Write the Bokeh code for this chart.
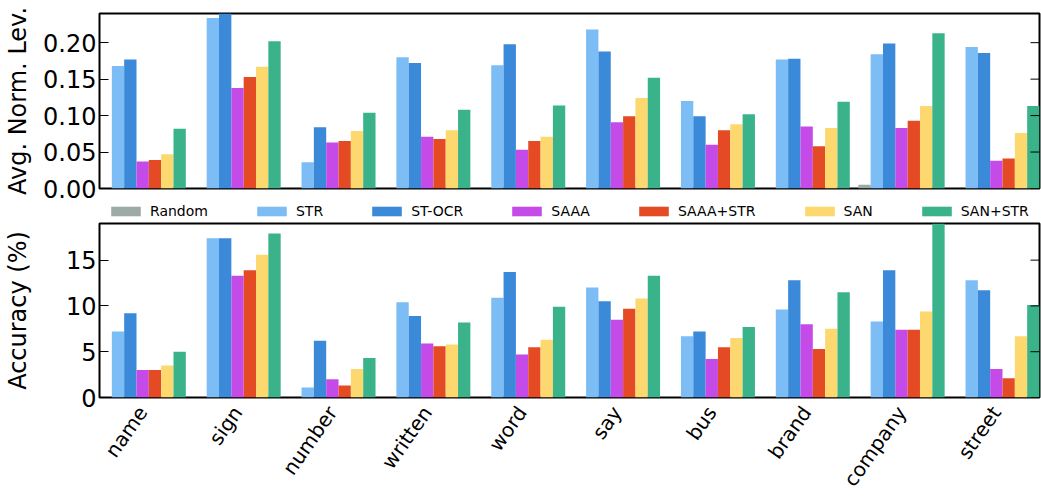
import math
from bokeh.plotting import figure
from bokeh.models import Range1d, FixedTicker, PrintfTickFormatter
from bokeh.layouts import column
from bokeh.embed import file_html
from bokeh.resources import INLINE

# Question keywords (x groups)
categories = ["name", "sign", "number", "written", "word",
              "say", "bus", "brand", "company", "street"]

methods = ["Random", "STR", "ST-OCR", "SAAA", "SAAA+STR", "SAN", "SAN+STR"]
colors = ["#9eaaa6", "#7dbdf6", "#3a8ad9", "#c44be8", "#e44b25", "#fdd86f", "#3bb38a"]

# Average normalized Levenshtein similarity per keyword
lev_random   = [0.0, 0.0, 0.0, 0.0, 0.0, 0.0, 0.0, 0.0, 0.005, 0.0]
lev_str      = [0.168, 0.234, 0.036, 0.180, 0.169, 0.218, 0.120, 0.177, 0.184, 0.194]
lev_st_ocr   = [0.177, 0.240, 0.084, 0.172, 0.198, 0.188, 0.099, 0.178, 0.199, 0.186]
lev_saaa     = [0.037, 0.138, 0.063, 0.071, 0.053, 0.091, 0.060, 0.085, 0.083, 0.038]
lev_saaa_str = [0.039, 0.153, 0.065, 0.068, 0.065, 0.099, 0.080, 0.058, 0.093, 0.041]
lev_san      = [0.047, 0.167, 0.079, 0.080, 0.071, 0.124, 0.088, 0.083, 0.113, 0.076]
lev_san_str  = [0.082, 0.202, 0.104, 0.108, 0.114, 0.152, 0.102, 0.119, 0.213, 0.113]

# Accuracy (%) per keyword
acc_random   = [0.0, 0.0, 0.0, 0.0, 0.0, 0.0, 0.0, 0.0, 0.0, 0.0]
acc_str      = [7.2, 17.4, 1.1, 10.4, 10.9, 12.0, 6.7, 9.6, 8.3, 12.8]
acc_st_ocr   = [9.2, 17.4, 6.2, 8.9, 13.7, 10.5, 7.2, 12.8, 13.9, 11.7]
acc_saaa     = [3.0, 13.3, 2.0, 5.9, 4.7, 8.5, 4.2, 8.0, 7.4, 3.1]
acc_saaa_str = [3.0, 13.9, 1.3, 5.6, 5.5, 9.7, 5.5, 5.3, 7.4, 2.1]
acc_san      = [3.5, 15.6, 3.1, 5.8, 6.3, 10.8, 6.5, 7.5, 9.4, 6.7]
acc_san_str  = [5.0, 17.9, 4.3, 8.2, 9.9, 13.3, 7.7, 11.5, 19.0, 10.1]

lev_ticks = [0.0, 0.05, 0.10, 0.15, 0.20]
acc_ticks = [0, 5, 10, 15]

lev_series = [lev_random, lev_str, lev_st_ocr, lev_saaa, lev_saaa_str, lev_san, lev_san_str]
acc_series = [acc_random, acc_str, acc_st_ocr, acc_saaa, acc_saaa_str, acc_san, acc_san_str]

BAR_W = 0.13
N_GROUPS = len(categories)
N_SER = len(methods)
X_END = (N_GROUPS - 1) + N_SER * BAR_W
centers = [round(g + N_SER * BAR_W / 2, 3) for g in range(N_GROUPS)]
FONT = "DejaVu Sans"


def make_panel(series, y_end, ticks, ylabel, height, top, bottom, label_standoff):
    p = figure(width=1041, height=height,
               x_range=Range1d(0, X_END), y_range=Range1d(0, y_end),
               output_backend="svg", toolbar_location=None,
               min_border_left=94, min_border_right=2,
               min_border_top=top, min_border_bottom=bottom)
    p.xgrid.visible = False
    p.ygrid.visible = False
    p.outline_line_color = "black"
    p.outline_line_width = 2
    p.outline_line_alpha = 1.0
    p.background_fill_color = "white"
    p.border_fill_color = "white"

    for i, (vals, col) in enumerate(zip(series, colors)):
        xs = [g + (i + 0.5) * BAR_W for g in range(N_GROUPS)]
        p.vbar(x=xs, top=vals, width=BAR_W, fill_color=col, line_color=None)

    # inward ticks mirrored on the right edge of the frame (outer half is clipped)
    p.scatter(x=[X_END] * len(ticks), y=ticks, marker="dash", size=18,
              line_color="black", line_width=1)

    ya = p.yaxis[0]
    ya.ticker = FixedTicker(ticks=ticks)
    ya.major_tick_in = 9
    ya.major_tick_out = 0
    ya.major_tick_line_color = "black"
    ya.minor_tick_line_color = None
    ya.axis_line_color = None
    ya.major_label_text_font = FONT
    ya.major_label_text_font_size = "24px"
    ya.major_label_text_color = "black"
    ya.major_label_standoff = 3
    ya.axis_label = ylabel
    ya.axis_label_text_font = FONT
    ya.axis_label_text_font_size = "24px"
    ya.axis_label_text_font_style = "normal"
    ya.axis_label_text_color = "black"
    ya.axis_label_standoff = label_standoff
    return p


# upper panel: Levenshtein similarity
top = make_panel(lev_series, 0.24, lev_ticks, "Avg. Norm. Lev.", 202, 13, 14, 8)
top.yaxis[0].formatter = PrintfTickFormatter(format="%.2f")
top.xaxis.visible = False

# strip holding the shared legend; each entry gets a zero-height proxy bar
key = figure(width=1041, height=19, x_range=Range1d(0, 1), y_range=Range1d(0, 1),
             output_backend="svg", toolbar_location=None,
             x_axis_location=None, y_axis_location=None,
             min_border_left=94, min_border_right=2,
             min_border_top=0, min_border_bottom=0)
key.xgrid.visible = False
key.ygrid.visible = False
key.outline_line_color = None
for name, col in zip(methods, colors):
    key.vbar(x=[0], top=[0], bottom=[0], width=0, fill_color=col, line_color=None,
             legend_label=name)
legend = key.legend[0]
legend.orientation = "horizontal"
legend.location = (8, 2)
legend.glyph_width = 37
legend.glyph_height = 12
legend.label_height = 10
legend.label_standoff = 6
legend.spacing = 45
legend.padding = 0
legend.margin = 0
legend.border_line_color = None
legend.background_fill_alpha = 0
legend.label_text_font = FONT
legend.label_text_font_size = "14px"
legend.label_text_color = "black"

# lower panel: accuracy
bottom = make_panel(acc_series, 19.0, acc_ticks, "Accuracy (%)", 279, 2, 102, 31)
xa = bottom.xaxis[0]
xa.ticker = FixedTicker(ticks=centers)
xa.major_label_overrides = {c: name for c, name in zip(centers, categories)}
xa.major_label_orientation = math.radians(55)
xa.major_label_text_font = FONT
xa.major_label_text_font_size = "20px"
xa.major_label_text_color = "black"
xa.major_label_standoff = 5
xa.major_tick_line_color = None
xa.minor_tick_line_color = None
xa.axis_line_color = None

layout = column(top, key, bottom, spacing=0)
open("out.html", "w").write(file_html(layout, INLINE))
